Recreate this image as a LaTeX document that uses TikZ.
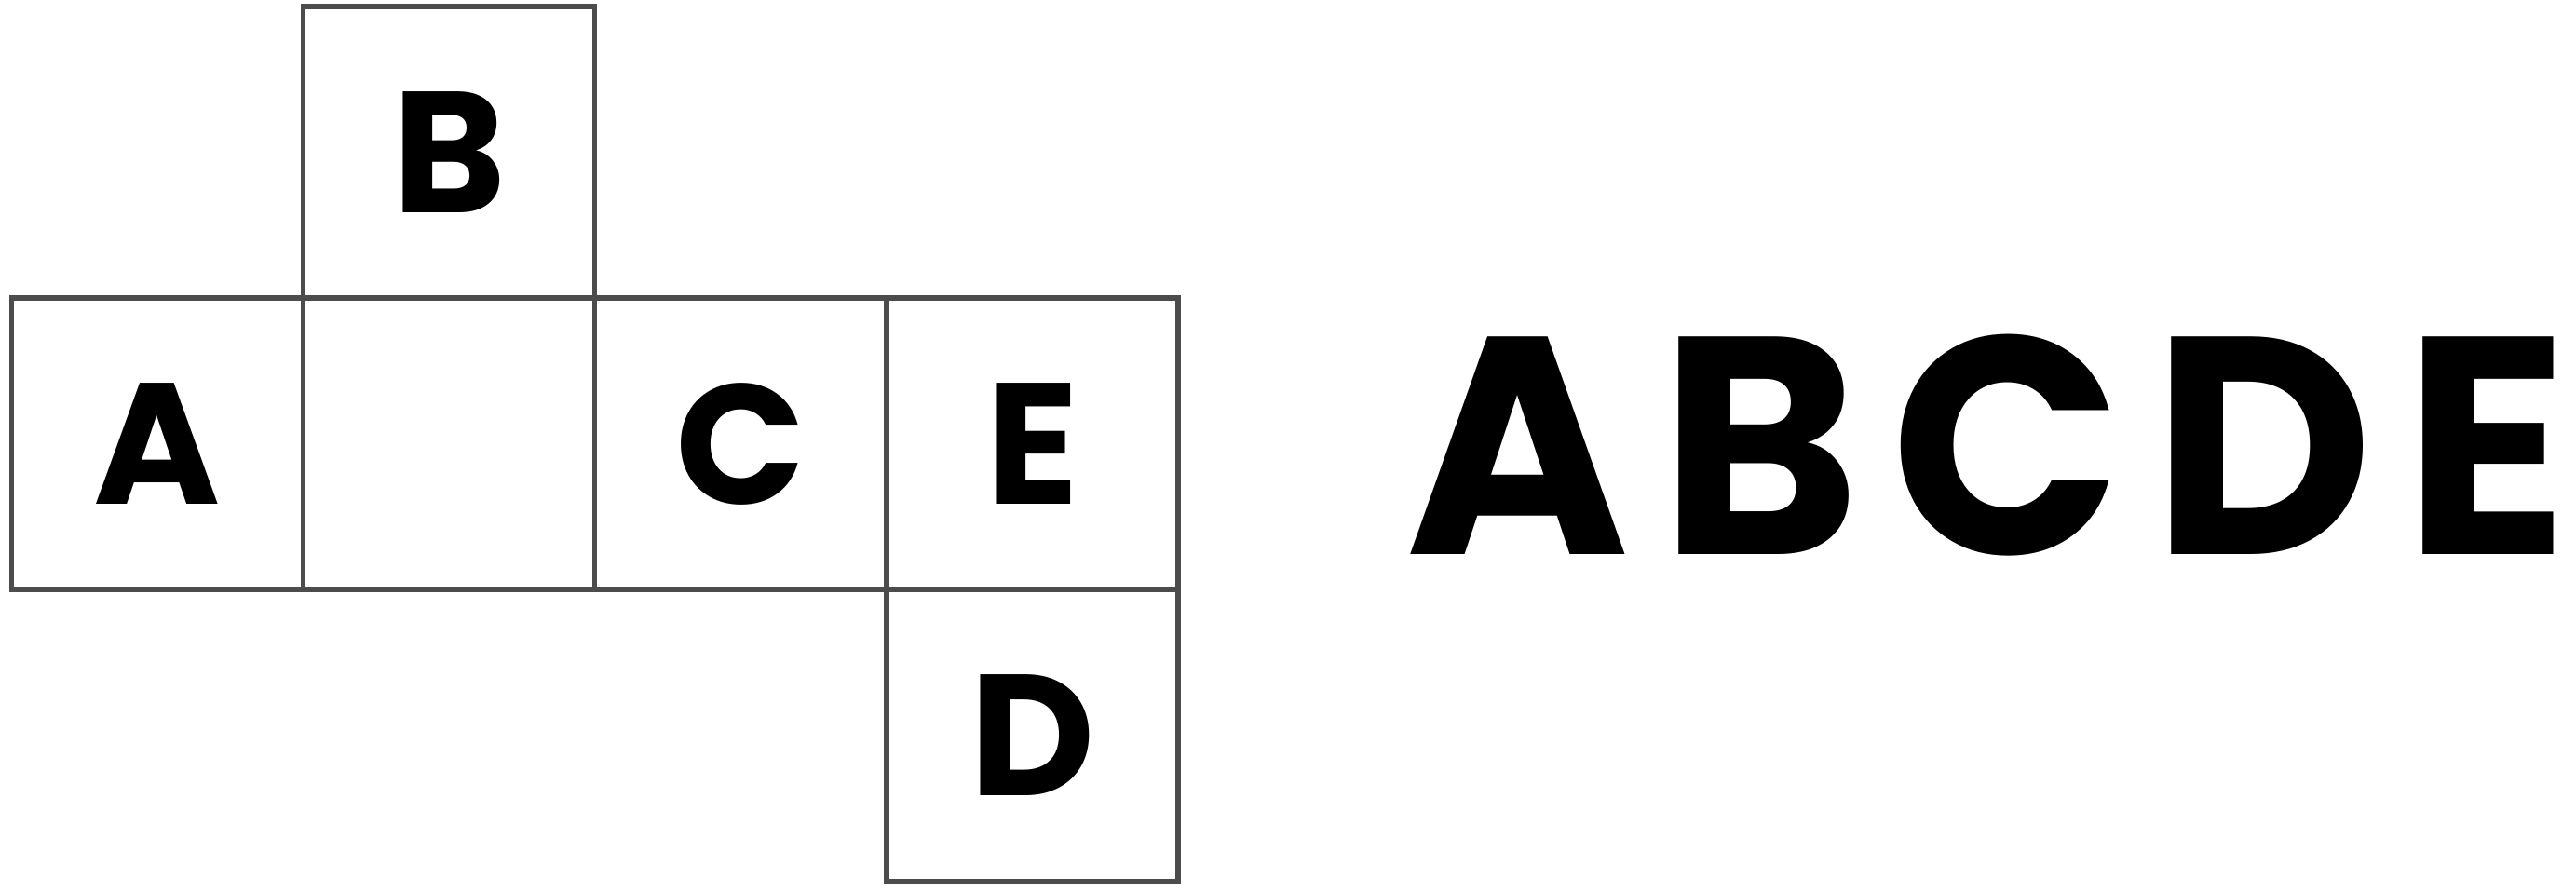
\documentclass[tikz,border=0pt]{standalone}
\usepackage{graphicx}
\usepackage{fontspec}
\setmainfont{Poppins}
\usetikzlibrary{positioning}
\newcommand{\capletter}[1]{\resizebox{!}{0.83cm}{\bfseries #1}}
\tikzset{
  face/.style={draw=black!70, line width=1pt, minimum size=2cm, inner sep=0pt,
    outer sep=0pt},
  word/.style={inner sep=0pt, anchor=base}
}
\begin{document}
\begin{tikzpicture}
  \useasboundingbox (0,0) rectangle (17.67,6.115);
  % net of the cube
  \node[face] (a) at (1.08,3.07) {\capletter{A}};
  \node[face, right=0pt of a] (m) {};
  \node[face, above=0pt of m] (b) {\capletter{B}};
  \node[face, right=0pt of m] (c) {\capletter{C}};
  \node[face, right=0pt of c] (e) {\capletter{E}};
  \node[face, below=0pt of e] (d) {\capletter{D}};
  % the word
  \node[word] (abcde) at (13.63,2.31)
    {\resizebox{7.97cm}{1.51cm}{\bfseries A\kern.1em B\kern.1em C\kern.1em D\kern.1em E}};
\end{tikzpicture}
\end{document}
